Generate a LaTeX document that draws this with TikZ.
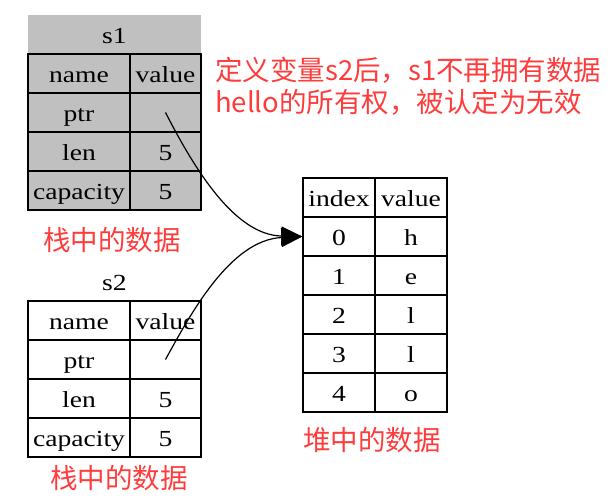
\documentclass[tikz,border=0pt]{standalone}
\usepackage{fontspec}
\usetikzlibrary{arrows.meta}
\newfontfamily\tabfont[FakeStretch=1.2]{Liberation Serif}
\newfontfamily\cjk{Noto Sans CJK SC}
\definecolor{cellgray}{HTML}{C0C0C0}
\definecolor{notered}{HTML}{FF3C3C}

\begin{document}
\begin{tikzpicture}[x=1pt, y=-1pt,
    cell/.style={draw, line width=1.3pt, minimum height=39pt, inner sep=0pt,
                 text height=18pt, text depth=1pt,
                 font=\tabfont\fontsize{23}{26}\selectfont},
    namecol/.style={cell, minimum width=102pt},
    valcol/.style={cell, minimum width=71pt},
    heapcol/.style={cell, minimum width=72pt},
    stack/.style={fill=cellgray},
    title/.style={minimum width=173pt, minimum height=39pt, inner sep=0pt,
                  text height=18pt, text depth=1pt,
                  font=\tabfont\fontsize{23}{26}\selectfont},
    note/.style={text=notered, inner sep=0pt, font=\cjk\fontsize{27.5}{32}\selectfont},
    arrow/.style={-{Triangle[length=21pt, width=19pt]}, line width=1.2pt}
  ]
    \useasboundingbox (0,0) rectangle (610,501);

    % s1 (stack, gray)
    \node[title, fill=cellgray]   (s1)        at (114.5, 34.5) {s1};
    \node[namecol, stack]         (s1name)    at (79,    73.5) {name};
    \node[valcol, stack]          (s1value)   at (165.5, 73.5) {value};
    \node[namecol, stack]         (s1ptrkey)  at (79,   112.5) {ptr};
    \node[valcol, stack]          (s1ptr)     at (165.5,112.5) {};
    \node[namecol, stack]         (s1lenkey)  at (79,   151.5) {len};
    \node[valcol, stack]          (s1len)     at (165.5,151.5) {5};
    \node[namecol, stack]         (s1capkey)  at (79,   190.5) {capacity};
    \node[valcol, stack]          (s1cap)     at (165.5,190.5) {5};

    % s2 (stack)
    \node[title]                  (s2)        at (114.5,282) {s2};
    \node[namecol]                (s2name)    at (79,   320.5) {name};
    \node[valcol]                 (s2value)   at (165.5,320.5) {value};
    \node[namecol]                (s2ptrkey)  at (79,   359.5) {ptr};
    \node[valcol]                 (s2ptr)     at (165.5,359.5) {};
    \node[namecol]                (s2lenkey)  at (79,   398.5) {len};
    \node[valcol]                 (s2len)     at (165.5,398.5) {5};
    \node[namecol]                (s2capkey)  at (79,   437.5) {capacity};
    \node[valcol]                 (s2cap)     at (165.5,437.5) {5};

    % heap
    \node[heapcol] (idxhead) at (339,197.5) {index};
    \node[heapcol] (chrhead) at (411,197.5) {value};
    \foreach \i/\ch in {0/h, 1/e, 2/l, 3/l, 4/o} {
      \node[heapcol] (idx\i) at (339, 236.5+39*\i) {\i};
      \node[heapcol] (chr\i) at (411, 236.5+39*\i) {\ch};
    }

    % notes
    \node[note] (s1data)   at (112,240) {栈中的数据};
    \node[note] (s2data)   at (119,478) {栈中的数据};
    \node[note] (heapdata) at (372,440) {堆中的数据};
    \node[note, anchor=west, align=left] (remark) at (215,86)
      {定义变量s2后，s1不再拥有数据\\hello的所有权，被认定为无效};

    % pointers
    \draw[arrow] (s1ptr.center) .. controls (195,170) and (235,235) .. (idx0.west);
    \draw[arrow] (s2ptr.center) .. controls (190,315) and (230,240) .. (idx0.west);
  \end{tikzpicture}
\end{document}
